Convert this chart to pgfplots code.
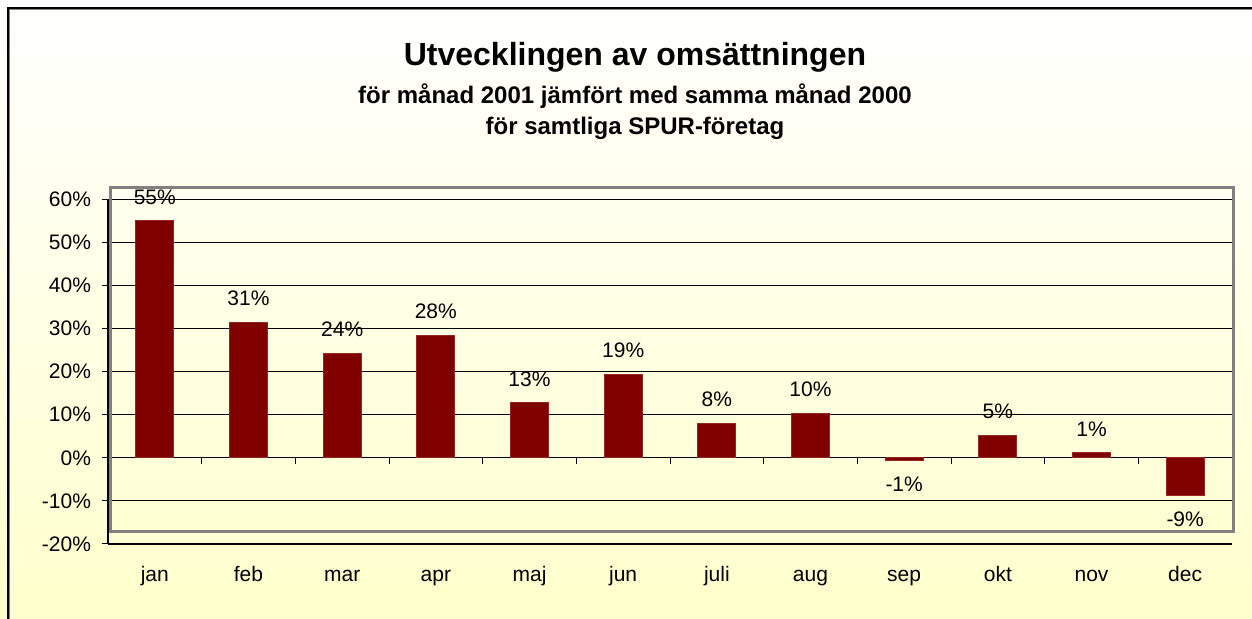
\documentclass[border=0pt]{standalone}
\usepackage{fontspec}
\setmainfont{Liberation Sans}
\usepackage{pgfplots}
\usepackage{pgfplotstable}
\pgfplotsset{compat=1.18}
\definecolor{barred}{HTML}{800000}
\definecolor{bgbot}{HTML}{FFFFCC}
\definecolor{boxgray}{HTML}{808080}

% monthly change in turnover, 2001 vs 2000 (percent)
\pgfplotstableread{
x y
0 55.0
1 31.4
2 24.3
3 28.4
4 12.8
5 19.4
6 8.0
7 10.3
8 -0.6
9 5.2
10 1.2
11 -8.8
}\omsdata

\newcommand{\lbl}{\fontsize{10.5}{12}\selectfont}

\begin{document}
\begin{tikzpicture}
\useasboundingbox (0,0) rectangle (626pt,309.5pt);
\shade[top color=white, bottom color=bgbot] (0,0) rectangle (626pt,309.5pt);
% chart frame
\draw[boxgray, line width=0.6pt] (4.6pt,0) -- (4.6pt,304.6pt) -- (626pt,304.6pt);
\draw[black, line width=1pt] (3.75pt,0) -- (3.75pt,305.5pt) -- (626pt,305.5pt);

\node[font=\bfseries\fontsize{16}{18}\selectfont] at (317.5pt,281pt) {Utvecklingen av omsättningen};
\node[font=\bfseries\fontsize{12}{14}\selectfont] at (317.5pt,261.5pt) {för månad 2001 jämfört med samma månad 2000};
\node[font=\bfseries\fontsize{12}{14}\selectfont] at (317.5pt,245.5pt) {för samtliga SPUR-företag};

\begin{axis}[
  at={(54pt,37.5pt)}, anchor=south west,
  scale only axis, width=562pt, height=172.35pt,
  xmin=-0.5, xmax=11.5, ymin=-20, ymax=60,
  axis lines*=left, axis line style={-, black, line width=0.6pt},
  ytick={-20,-10,...,60},
  yticklabels={-20\%,-10\%,0\%,10\%,20\%,30\%,40\%,50\%,60\%},
  ymajorgrids, grid style={black, line width=0.5pt},
  xtick={0,...,11},
  xticklabels={jan,feb,mar,apr,maj,jun,juli,aug,sep,okt,nov,dec},
  xtick style={draw=none},
  tick align=outside, major tick length=3pt,
  tick style={black, line width=0.5pt},
  tick label style={font=\lbl},
  xticklabel style={anchor=base, yshift=-16pt},
  yticklabel shift=2pt,
  ybar, bar width=19pt,
  point meta=y,
  nodes near coords={\pgfmathprintnumber[fixed,precision=0,assume math mode=true]{\pgfplotspointmeta}\%},
  every node near coord/.append style={font=\lbl, black, inner ysep=8pt},
  clip=false,
]
\addplot[fill=barred, draw=barred!85!white, line width=0.4pt]
  table[x=x, y=y] {\omsdata};
\pgfplotsinvokeforeach{0.5,1.5,2.5,3.5,4.5,5.5,6.5,7.5,8.5,9.5,10.5}{
  \draw[black, line width=0.5pt] (axis cs:#1,0) -- ([yshift=-3pt]axis cs:#1,0);
}
\end{axis}
% plot area border
\draw[boxgray, line width=1.5pt] (55.4pt,43.5pt) rectangle (616.5pt,215.85pt);
\end{tikzpicture}
\end{document}
